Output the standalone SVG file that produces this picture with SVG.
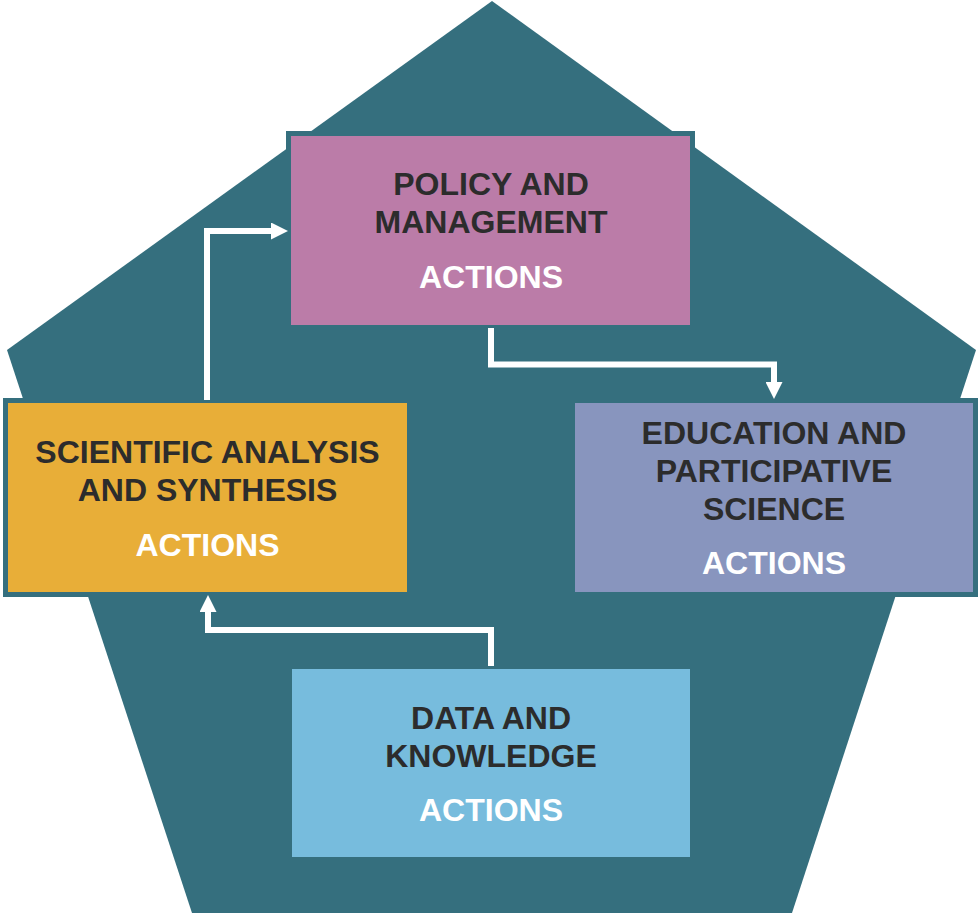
<svg xmlns="http://www.w3.org/2000/svg" width="979" height="915" viewBox="0 0 979 915">
  <defs>
    <style>
      .box { stroke: #356f7e; stroke-width: 5; }
      .t { font-family: "Liberation Sans", Arial, sans-serif; font-weight: bold; font-size: 32px; text-anchor: middle; fill: #2c2c2c; }
      .a { fill: #ffffff; }
      .conn { fill: none; stroke: #ffffff; stroke-width: 6; stroke-linejoin: miter; stroke-linecap: butt; }
    </style>
    <marker id="arr" markerUnits="userSpaceOnUse" markerWidth="17" markerHeight="17" refX="0" refY="8.5" orient="auto" viewBox="0 0 17 17">
      <path d="M0,0 L17,8.5 L0,17 Z" fill="#ffffff"/>
    </marker>
  </defs>
  <rect width="979" height="915" fill="#ffffff"/>
  <polygon id="pentagon" points="492,1 976,350 792,913 192,913 7,350" fill="#356f7e"/>

  <g id="policy">
    <rect class="box" x="288.5" y="133.5" width="404" height="194" fill="#bb7ca8"/>
    <text class="t" x="491" y="195">POLICY AND</text>
    <text class="t" x="491" y="233">MANAGEMENT</text>
    <text class="t a" x="491" y="288">ACTIONS</text>
  </g>

  <g id="education">
    <rect class="box" x="572.5" y="400.5" width="403" height="194" fill="#8895be"/>
    <text class="t" x="774" y="444">EDUCATION AND</text>
    <text class="t" x="774" y="482">PARTICIPATIVE</text>
    <text class="t" x="774" y="520">SCIENCE</text>
    <text class="t a" x="774" y="574">ACTIONS</text>
  </g>

  <g id="scientific">
    <rect class="box" x="5.5" y="400.5" width="404" height="194" fill="#e8ae38"/>
    <text class="t" x="207.5" y="463">SCIENTIFIC ANALYSIS</text>
    <text class="t" x="207.5" y="501">AND SYNTHESIS</text>
    <text class="t a" x="207.5" y="556">ACTIONS</text>
  </g>

  <g id="data">
    <rect class="box" x="289.5" y="666.5" width="403" height="193" fill="#77bcdd"/>
    <text class="t" x="491" y="729">DATA AND</text>
    <text class="t" x="491" y="767">KNOWLEDGE</text>
    <text class="t a" x="491" y="821">ACTIONS</text>
  </g>

  <g id="connectors">
    <polyline class="conn" points="207,400 207,231 271,231" marker-end="url(#arr)"/>
    <polyline class="conn" points="491,328 491,364.5 774,364.5 774,382" marker-end="url(#arr)"/>
    <polyline class="conn" points="491,666 491,630 208,630 208,612" marker-end="url(#arr)"/>
  </g>
</svg>
